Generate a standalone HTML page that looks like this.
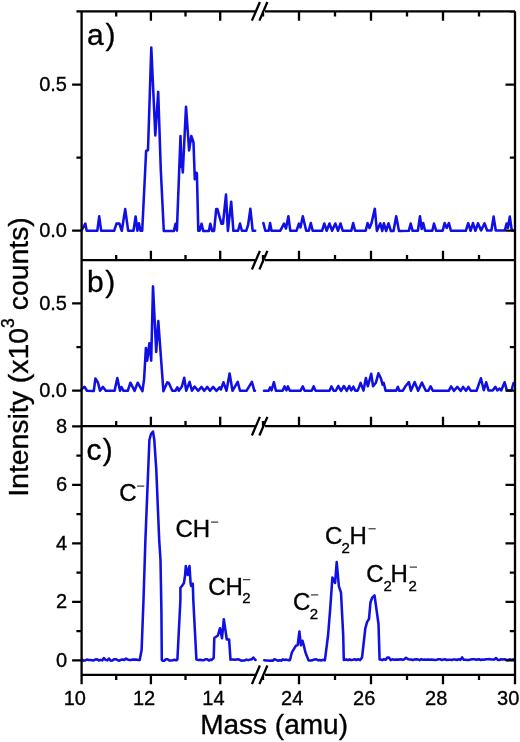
<!DOCTYPE html>
<html><head><meta charset="utf-8"><style>
html,body{margin:0;padding:0;background:#fff;}
svg{display:block;will-change:transform;}
text{font-family:"Liberation Sans", sans-serif;}
</style></head><body>
<svg width="520" height="742" viewBox="0 0 520 742">
<rect width="520" height="742" fill="#fff"/>
<g fill="none" stroke="#1010e4" stroke-width="2.55" stroke-linejoin="round" stroke-linecap="round">
<path d="M81.8 229.8L85.3 223.6L86.7 230.8L97.3 230.8L99.2 216.3L101.2 230.8L114.1 230.8L116.5 223.6L119.4 223.6L121.8 230.8L125.2 209.1L128.2 230.8L133.5 230.8L135.6 216.5L137.4 230.8L138.9 223.2L140.5 230.8L142.2 230.8L145.2 170.0L146.1 151.0L148.0 150.0L151.3 47.5L155.3 135.4L158.2 91.9L160.8 170.0L163.8 231.0L173.9 231.0L175.5 223.7L176.9 230.6L180.5 136.0L181.6 167.0L182.1 163.0L182.8 172.5L186.0 106.7L189.1 150.4L191.3 136.0L193.5 142.5L194.8 179.3L196.4 172.7L196.9 173.5L198.3 230.6L199.6 230.6L201.6 223.7L203.2 230.9L208.9 230.9L210.3 223.7L212.1 230.9L214.1 230.9L216.2 209.1L217.4 209.1L221.4 223.7L223.0 223.7L226.0 194.6L227.9 230.9L231.2 201.7L233.4 230.8L238.1 230.8L240.0 223.5L241.9 230.8L246.2 230.8L248.1 225.0L250.4 208.8L252.7 230.8L255.2 230.8"/>
<path d="M263.4 223.1L265.3 230.8L268.7 230.8L270.1 223.1L271.5 230.8L280.2 230.8L284.0 223.6L286.0 228.5L288.4 216.3L290.3 230.8L296.5 230.8L298.9 223.6L300.5 227.5L302.8 216.3L306.2 230.8L308.8 230.8L310.8 223.1L312.7 230.8L322.0 230.8L324.3 223.5L326.7 230.8L329.5 223.5L332.1 230.8L335.3 223.5L338.0 230.8L340.5 223.5L342.8 230.8L351.3 230.8L353.2 223.1L355.1 230.8L365.7 230.8L367.6 223.1L369.5 228.0L371.4 223.6L374.8 208.7L376.9 231.0L380.3 223.3L382.2 231.0L383.9 223.3L386.1 231.0L388.5 223.3L390.9 231.0L393.5 231.0L396.2 216.3L399.0 231.0L408.8 230.8L410.7 223.6L412.6 230.8L417.9 230.8L420.0 216.3L421.7 229.0L423.2 223.1L425.1 230.8L432.3 230.8L434.0 223.6L436.2 230.8L442.7 230.8L444.6 223.1L446.7 228.0L448.9 223.1L450.9 230.8L465.8 230.8L468.2 223.1L470.6 230.8L473.0 223.1L475.4 230.8L478.0 223.3L481.1 230.5L484.5 223.3L487.1 230.5L491.4 230.5L493.6 216.6L495.8 230.5L504.8 230.5L506.6 223.5L507.9 227.9L509.8 216.6L511.8 230.5L514.8 230.5"/>
<path d="M81.8 389.0L84.5 386.8L87.0 390.8L93.8 391.0L95.4 378.5L98.0 382.7L100.0 390.8L103.0 386.9L105.8 390.8L114.6 390.8L117.3 378.1L120.0 390.8L121.5 387.0L123.5 390.8L127.8 390.8L130.4 382.7L134.6 390.8L137.7 382.7L142.4 391.2L144.1 379.1L145.9 348.0L147.2 360.7L149.4 343.2L151.2 360.7L153.0 286.4L156.2 352.0L158.3 321.0L163.4 391.2L167.3 382.3L168.8 383.0L172.3 390.8L175.4 390.8L177.3 387.3L178.8 390.8L181.9 386.5L184.2 377.7L186.2 390.8L189.6 381.9L191.9 390.8L194.6 386.5L198.1 390.8L201.5 386.9L204.2 390.8L207.3 386.9L210.0 390.8L213.1 386.9L216.5 390.8L219.6 387.3L220.9 389.5L223.5 382.3L226.5 390.8L229.6 373.5L232.5 390.8L237.7 381.9L240.0 390.8L246.5 390.8L251.9 381.9L254.4 390.8L255.0 390.8"/>
<path d="M264.0 390.8L268.7 390.8L270.1 387.4L271.5 390.3L273.9 382.1L275.9 390.8L282.6 390.8L284.5 386.4L286.4 390.3L287.9 386.4L289.8 390.8L300.4 390.8L302.8 386.4L304.7 390.8L311.7 390.8L313.7 386.4L315.6 390.8L329.5 390.8L331.4 386.4L333.8 390.8L335.8 390.8L338.2 386.0L341.1 390.8L343.9 386.0L346.8 390.8L349.2 386.0L351.3 390.4L353.4 386.7L355.3 390.6L357.7 390.6L360.6 382.9L363.5 390.6L365.9 378.1L367.8 386.3L371.2 373.8L373.1 386.3L376.0 382.4L378.4 373.3L380.8 378.1L382.7 384.8L383.7 382.9L385.6 390.6L396.2 390.6L397.9 386.9L399.3 390.8L402.7 390.8L405.6 386.0L408.9 382.1L410.9 390.8L414.7 382.1L418.1 390.8L421.9 382.6L425.8 390.8L428.2 390.8L430.6 386.4L433.0 390.8L448.7 390.8L451.1 386.4L453.9 390.8L457.3 386.9L460.7 390.8L463.1 386.9L466.0 390.8L468.4 386.9L470.8 390.8L476.5 390.8L480.9 378.3L483.8 390.2L486.2 382.3L488.5 390.4L492.7 390.4L495.4 386.9L497.3 390.4L499.6 388.5L501.2 390.4L504.6 382.3L506.9 390.4L511.5 390.4L513.5 383.0L514.8 383.0"/>
<path d="M81.8 659.4L83.5 660.6L85.2 660.4L86.9 659.6L88.6 660.0L90.3 659.9L92.0 660.2L93.7 660.5L95.4 659.4L97.1 659.2L98.8 660.5L100.5 659.9L102.2 660.4L103.9 658.0L105.6 659.9L107.3 660.4L109.0 658.5L110.7 660.7L112.4 660.6L114.1 659.2L115.8 659.2L117.5 660.1L119.2 660.7L120.9 659.8L122.6 659.5L124.3 659.9L126.0 658.5L127.7 659.6L129.4 659.9L131.1 660.0L132.8 659.6L134.5 659.6L136.2 659.6L137.9 659.9L139.0 660.0L139.7 659.9L141.6 650.0L143.5 600.0L145.4 540.0L148.2 470.0L149.4 440.0L151.0 434.0L153.0 431.5L154.3 440.0L156.3 470.0L159.2 540.0L160.5 560.0L161.4 610.0L161.8 659.8L162.5 660.7L164.2 660.7L165.9 659.3L167.6 659.3L169.3 660.5L171.0 660.4L172.7 660.3L174.4 659.7L176.1 660.2L176.8 660.0L177.4 659.5L180.4 600.0L180.4 588.0L183.9 583.2L185.0 576.0L185.8 566.0L187.7 575.0L189.5 566.0L190.6 583.2L191.2 585.9L192.8 583.7L193.3 600.0L196.4 659.5L197.0 659.6L198.7 660.1L200.4 659.8L202.1 660.2L203.8 660.2L205.5 659.3L207.2 659.2L208.9 660.5L210.6 659.6L211.0 660.0L211.5 660.0L213.7 658.0L214.3 638.0L217.9 635.5L220.0 628.2L222.0 638.3L223.8 619.3L226.8 639.5L229.1 639.5L230.5 659.7L231.2 659.6L232.9 659.4L234.6 659.8L236.3 659.4L238.0 659.3L239.7 659.8L241.4 660.7L243.1 660.5L244.8 660.4L246.5 659.6L248.2 660.1L249.9 659.6L251.6 659.5L253.3 657.5L255.0 659.5L255.5 660.0"/>
<path d="M264.2 660.2L265.9 660.4L267.6 660.5L269.3 660.7L271.0 660.4L272.7 660.7L274.4 659.2L276.1 659.9L277.8 660.7L279.5 660.2L281.2 660.6L282.9 659.4L284.6 660.0L286.3 659.6L288.0 660.1L289.7 660.1L290.0 660.0L291.9 652.3L295.8 645.8L297.7 645.0L299.4 631.5L300.9 645.4L302.5 640.8L303.8 645.4L305.4 652.3L308.5 660.4L309.5 660.5L311.2 660.5L312.9 660.0L314.6 659.6L316.3 659.2L318.0 660.3L319.7 660.0L321.4 660.4L323.1 659.8L324.8 660.4L324.8 660.0L325.0 659.6L328.1 635.0L330.2 608.9L332.4 577.6L335.1 583.0L336.7 562.0L338.9 586.3L341.0 592.7L343.2 635.0L343.8 660.0L344.5 659.7L346.2 659.4L347.9 660.2L349.6 659.3L351.3 660.1L353.0 659.8L354.7 659.3L356.4 660.0L358.1 659.3L359.8 659.9L360.0 660.0L360.2 660.0L362.1 657.2L365.3 628.5L367.0 622.2L369.0 618.8L370.5 602.2L372.2 597.6L374.5 595.3L378.5 624.0L379.6 659.5L380.5 659.3L382.2 660.1L383.9 659.2L385.6 659.8L387.3 657.6L389.0 657.6L390.7 660.1L392.4 659.3L394.1 659.7L395.8 659.6L397.5 659.6L399.2 659.6L400.9 659.3L402.6 659.9L404.3 659.2L406.0 657.8L407.7 659.1L409.4 659.4L411.1 659.5L412.8 660.0L414.5 659.5L416.2 659.2L417.9 659.4L419.6 660.1L421.3 659.2L423.0 659.7L424.7 659.5L426.4 659.8L428.1 659.4L429.8 659.8L431.5 659.6L433.2 659.7L434.9 660.0L436.6 659.7L438.3 659.2L440.0 659.2L441.7 660.0L443.4 659.6L445.1 659.3L446.8 660.0L448.5 659.7L450.2 659.8L451.9 660.0L453.6 659.4L455.3 659.5L457.0 660.0L458.7 659.2L460.4 659.9L462.1 657.4L463.8 659.8L465.5 659.8L467.2 660.0L468.9 659.9L470.6 659.6L472.3 659.3L474.0 659.3L475.7 659.6L477.4 659.6L479.1 659.2L480.8 660.0L482.5 659.6L484.2 659.8L485.9 659.3L487.6 659.3L489.3 659.1L491.0 659.4L492.7 659.4L494.4 659.5L496.1 658.0L497.8 659.9L499.5 660.0L501.2 659.3L502.9 659.5L504.6 659.3L506.3 659.8L508.0 660.1L509.7 659.3L511.4 659.9L513.1 659.4L514.8 659.1L514.8 659.6"/>
</g>
<path fill="none" stroke="#000" stroke-width="2.3" stroke-linecap="butt" d="M81.6 11.3L81.6 674.8M515.0 11.3L515.0 674.8M81.6 11.3L255.0 11.3M265.0 11.3L515.0 11.3M81.6 260.2L255.0 260.2M265.0 260.2L515.0 260.2M81.6 426.2L255.0 426.2M265.0 426.2L515.0 426.2M81.6 674.8L255.0 674.8M265.0 674.8L515.0 674.8M76.4 11.3L81.6 11.3M81.6 674.8L81.6 684.3M150.9 11.3L150.9 20.8M150.9 260.2L150.9 250.7M150.9 426.2L150.9 416.7M150.9 674.8L150.9 684.3M220.2 11.3L220.2 20.8M220.2 260.2L220.2 250.7M220.2 426.2L220.2 416.7M220.2 674.8L220.2 684.3M299.0 11.3L299.0 20.8M299.0 260.2L299.0 250.7M299.0 426.2L299.0 416.7M299.0 674.8L299.0 684.3M371.0 11.3L371.0 20.8M371.0 260.2L371.0 250.7M371.0 426.2L371.0 416.7M371.0 674.8L371.0 684.3M443.0 11.3L443.0 20.8M443.0 260.2L443.0 250.7M443.0 426.2L443.0 416.7M443.0 674.8L443.0 684.3M515.0 674.8L515.0 684.3M116.2 11.3L116.2 16.5M116.2 260.2L116.2 255.0M116.2 426.2L116.2 421.0M116.2 674.8L116.2 680.0M185.5 11.3L185.5 16.5M185.5 260.2L185.5 255.0M185.5 426.2L185.5 421.0M185.5 674.8L185.5 680.0M263.0 11.3L263.0 16.5M263.0 260.2L263.0 255.0M263.0 426.2L263.0 421.0M263.0 674.8L263.0 680.0M335.0 11.3L335.0 16.5M335.0 260.2L335.0 255.0M335.0 426.2L335.0 421.0M335.0 674.8L335.0 680.0M407.0 11.3L407.0 16.5M407.0 260.2L407.0 255.0M407.0 426.2L407.0 421.0M407.0 674.8L407.0 680.0M479.0 11.3L479.0 16.5M479.0 260.2L479.0 255.0M479.0 426.2L479.0 421.0M479.0 674.8L479.0 680.0M72.1 230.7L81.6 230.7M505.5 230.7L515.0 230.7M72.1 390.7L81.6 390.7M505.5 390.7L515.0 390.7M76.4 157.6L81.6 157.6M509.8 157.6L515.0 157.6M76.4 347.1L81.6 347.1M509.8 347.1L515.0 347.1M72.1 84.6L81.6 84.6M505.5 84.6L515.0 84.6M72.1 303.4L81.6 303.4M505.5 303.4L515.0 303.4M509.8 11.6L515.0 11.6M72.1 660.4L81.6 660.4M505.5 660.4L515.0 660.4M76.4 631.1L81.6 631.1M509.8 631.1L515.0 631.1M72.1 601.9L81.6 601.9M505.5 601.9L515.0 601.9M76.4 572.6L81.6 572.6M509.8 572.6L515.0 572.6M72.1 543.4L81.6 543.4M505.5 543.4L515.0 543.4M76.4 514.1L81.6 514.1M509.8 514.1L515.0 514.1M72.1 484.8L81.6 484.8M505.5 484.8L515.0 484.8M76.4 455.6L81.6 455.6M509.8 455.6L515.0 455.6M72.1 426.3L81.6 426.3M251.9 20.6L259.9 2.0M259.4 20.6L267.4 2.0M251.9 269.5L259.9 250.9M259.4 269.5L267.4 250.9M251.9 435.5L259.9 416.9M259.4 435.5L267.4 416.9M251.9 684.1L259.9 665.5M259.4 684.1L267.4 665.5"/>
<g fill="#000" stroke="#000" stroke-width="0.35"><text x="67.0" y="237.0" font-size="20.0" text-anchor="end">0.0</text><text x="67.0" y="397.0" font-size="20.0" text-anchor="end">0.0</text><text x="67.0" y="90.9" font-size="20.0" text-anchor="end">0.5</text><text x="67.0" y="309.7" font-size="20.0" text-anchor="end">0.5</text><text x="67.0" y="666.7" font-size="20.0" text-anchor="end">0</text><text x="67.0" y="608.2" font-size="20.0" text-anchor="end">2</text><text x="67.0" y="549.7" font-size="20.0" text-anchor="end">4</text><text x="67.0" y="491.1" font-size="20.0" text-anchor="end">6</text><text x="67.0" y="432.6" font-size="20.0" text-anchor="end">8</text><text x="74.8" y="705.4" font-size="20.0" text-anchor="middle">10</text><text x="144.1" y="705.4" font-size="20.0" text-anchor="middle">12</text><text x="213.4" y="705.4" font-size="20.0" text-anchor="middle">14</text><text x="292.2" y="705.4" font-size="20.0" text-anchor="middle">24</text><text x="364.2" y="705.4" font-size="20.0" text-anchor="middle">26</text><text x="436.2" y="705.4" font-size="20.0" text-anchor="middle">28</text><text x="508.2" y="705.4" font-size="20.0" text-anchor="middle">30</text><text x="200.2" y="734.0" font-size="28.0" text-anchor="start">Mass (amu)</text><text transform="translate(27.7 496.8) rotate(-90)" font-size="28.4">Intensity (x10<tspan font-size="17.5" dy="-13.5">3</tspan><tspan dy="13.5"> counts)</tspan></text><text x="87.0" y="45.0" font-size="30.0" text-anchor="start" letter-spacing="1.8">a)</text><text x="87.0" y="291.8" font-size="30.0" text-anchor="start" letter-spacing="1.5">b)</text><text x="86.5" y="460.0" font-size="30.0" text-anchor="start" letter-spacing="1.3">c)</text><text x="119.2" y="501.0" font-size="24.0" text-anchor="start">C</text><path d="M137.1 486.1h7.2" stroke="#222" stroke-width="1.1"/><text x="175.5" y="537.3" font-size="24.0" text-anchor="start">CH</text><path d="M211.0 522.1h7.2" stroke="#222" stroke-width="1.1"/><text x="208.2" y="595.0" font-size="24.0" text-anchor="start">CH</text><text x="242.3" y="603.3" font-size="15.0" text-anchor="start">2</text><path d="M243.0 579.7h7.2" stroke="#222" stroke-width="1.1"/><text x="292.9" y="610.2" font-size="24.0" text-anchor="start">C</text><text x="309.8" y="618.6" font-size="15.0" text-anchor="start">2</text><path d="M311.0 594.9h7.2" stroke="#222" stroke-width="1.1"/><text x="324.9" y="544.0" font-size="24.0" text-anchor="start">C</text><text x="341.5" y="552.5" font-size="15.0" text-anchor="start">2</text><text x="349.5" y="544.0" font-size="24.0" text-anchor="start">H</text><path d="M368.5 528.8h7.2" stroke="#222" stroke-width="1.1"/><text x="366.2" y="582.3" font-size="24.0" text-anchor="start">C</text><text x="383.5" y="590.5" font-size="15.0" text-anchor="start">2</text><text x="390.6" y="582.3" font-size="24.0" text-anchor="start">H</text><text x="408.4" y="590.5" font-size="15.0" text-anchor="start">2</text><path d="M409.8 567.1h7.2" stroke="#222" stroke-width="1.1"/></g>
</svg>
</body></html>
